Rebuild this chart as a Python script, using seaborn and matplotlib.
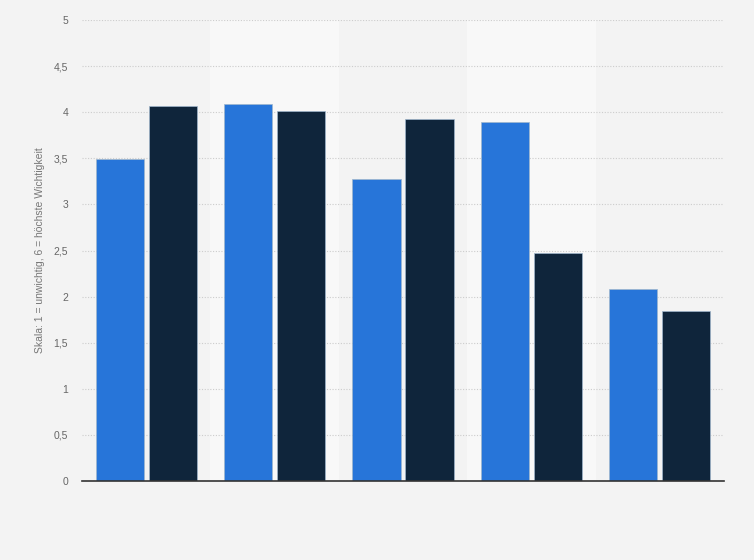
import matplotlib
matplotlib.use("Agg")
import matplotlib.pyplot as plt
import seaborn as sns
import pandas as pd
from matplotlib.ticker import FuncFormatter

categories = ["A", "B", "C", "D", "E"]
series_names = ["Reihe 1", "Reihe 2"]
values_1 = [3.49, 4.09, 3.28, 3.89, 2.08]
values_2 = [4.07, 4.01, 3.93, 2.47, 1.84]
y_ticks = [0, 0.5, 1, 1.5, 2, 2.5, 3, 3.5, 4, 4.5, 5]
y_label = "Skala: 1 = unwichtig, 6 = höchste Wichtigkeit"

df = pd.DataFrame({
    "Kategorie": categories * 2,
    "Serie": [series_names[0]] * len(categories) + [series_names[1]] * len(categories),
    "Wert": values_1 + values_2,
})

sns.set_theme(style="white")
plt.rcParams["font.family"] = ["Liberation Sans", "DejaVu Sans"]

bg = "#f3f3f3"
fig = plt.figure(figsize=(7.54, 5.6), dpi=100, facecolor=bg)
ax = fig.add_axes([82 / 754, 1 - 481 / 560, (724 - 82) / 754, (481 - 20) / 560])
ax.set_facecolor(bg)

for i in range(len(categories)):
    if i % 2 == 1:
        ax.axvspan(i - 0.5, i + 0.5, color="#f8f8f8", zorder=0, lw=0)

sns.barplot(data=df, x="Kategorie", y="Wert", hue="Serie", order=categories,
            hue_order=series_names, palette=["#2775d9", "#0f253b"],
            saturation=1, width=0.826, gap=0.09, ax=ax, legend=False, zorder=3,
            edgecolor="#9fb6cc", linewidth=0.5)

ax.set_xlim(-0.5, len(categories) - 0.5)
ax.set_ylim(0, 5)
ax.set_yticks(y_ticks)
ax.yaxis.set_major_formatter(FuncFormatter(lambda v, p: f"{v:g}".replace(".", ",")))
ax.grid(axis="y", color="#cccccc", linestyle=(0, (1, 1.5)), linewidth=0.8, zorder=1)
ax.set_axisbelow(True)
for s in ["top", "right", "left"]:
    ax.spines[s].set_visible(False)
ax.spines["bottom"].set_color("#333333")
ax.spines["bottom"].set_linewidth(1.2)
ax.spines["bottom"].set_zorder(5)
ax.tick_params(axis="x", bottom=False, labelbottom=False)
ax.tick_params(axis="y", left=False, length=0, labelsize=7.5, labelcolor="#666666", pad=10)
ax.set_xlabel("")
ax.set_ylabel(y_label, fontsize=7.5, color="#777777", labelpad=6)

fig.savefig("out.png", dpi=100, facecolor=bg)
